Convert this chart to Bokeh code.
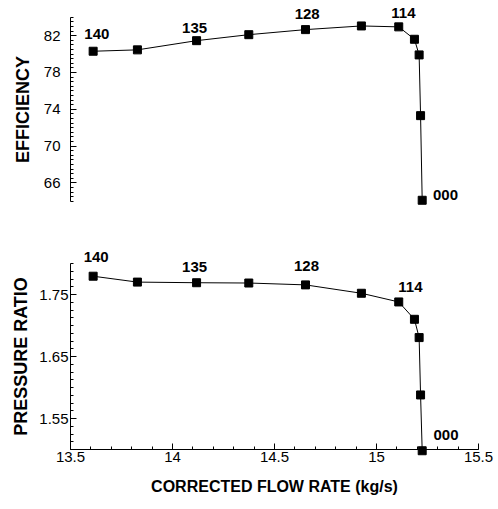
from bokeh.plotting import figure
from bokeh.layouts import column
from bokeh.models import FixedTicker, NumeralTickFormatter, ColumnDataSource, Range1d, LabelSet
from bokeh.core.properties import value
from bokeh.embed import file_html
from bokeh.resources import INLINE

# ---- data ----
flow = [13.611, 13.828, 14.118, 14.374, 14.652, 14.926, 15.109, 15.186, 15.209, 15.216, 15.224]
efficiency = [80.30, 80.45, 81.45, 82.10, 82.65, 83.05, 82.95, 81.60, 79.90, 73.30, 64.10]
pressure_ratio = [1.7795, 1.7700, 1.7690, 1.7685, 1.7655, 1.7520, 1.7380, 1.7100, 1.6805, 1.5880, 1.4980]
point_labels = ["140", "135", "128", "114", "000"]
label_index = [0, 2, 4, 6, 10]

x_ticks = [13.5, 14.0, 14.5, 15.0, 15.5]
eff_ticks = [66, 70, 74, 78, 82]
pr_ticks = [1.55, 1.65, 1.75]
x_lim = (13.5, 15.5)
eff_lim = (64, 84)
pr_lim = (1.50, 1.80)

# ---- styling / geometry (pixels) ----
FONT = "Liberation Sans"
W = 498
H_TOP, H_BOT = 230, 279
AX_L, AX_R = 70, 478          # x pixel of x_lim ends
TOP_T, TOP_B = 16.7, 200.7    # y pixel of eff_lim ends (top figure)
BOT_T, BOT_B = 33, 219        # y pixel of pr_lim ends (bottom figure)
# label offsets in screen pixels (right, up) from the labelled point
top_offsets = [(3.7, 17.2), (-2, 12.3), (1.7, 15.3), (4.7, 13.8), (23.3, 5)]
bot_offsets = [(3, 19), (-2, 15.8), (1, 18.7), (11.7, 15.2), (23.8, 15.3)]


def px_range(lo, hi, p_lo, p_hi, size, flip=False):
    # data range whose [lo, hi] lands on pixels [p_lo, p_hi] of a canvas of length size
    scale = (hi - lo) / (p_hi - p_lo)
    if flip:  # pixel grows downward: p_lo is the pixel of hi
        return Range1d(lo - (size - p_hi) * scale, hi + p_lo * scale)
    return Range1d(lo - p_lo * scale, hi + (size - p_hi) * scale)


def style_axis(ax):
    ax.axis_line_color = "black"
    ax.axis_line_width = 1
    ax.major_tick_line_color = "black"
    ax.minor_tick_line_color = "black"
    ax.major_tick_in = 6
    ax.major_tick_out = 0
    ax.minor_tick_in = 3
    ax.minor_tick_out = 0
    ax.major_label_text_font = FONT
    ax.major_label_text_font_size = "15px"
    ax.major_label_text_color = "black"
    ax.axis_label_text_font = FONT
    ax.axis_label_text_font_style = "bold"
    ax.axis_label_text_color = "black"


def add_series(p, ys, offsets):
    p.line(flow, ys, line_color="black", line_width=1)
    p.scatter(flow, ys, marker="square", size=8, fill_color="black", line_color="black")
    lx = [flow[i] for i in label_index]
    ly = [ys[i] for i in label_index]
    src = ColumnDataSource(dict(x=lx, y=ly, t=point_labels,
                                xo=[o[0] for o in offsets], yo=[o[1] for o in offsets]))
    labels = LabelSet(x="x", y="y", text="t", x_offset="xo", y_offset="yo", source=src,
                      text_font=value(FONT), text_font_style="bold", text_font_size="15px",
                      text_color="black", text_align="center", text_baseline="middle")
    p.add_layout(labels)


xr = px_range(x_lim[0], x_lim[1], AX_L, AX_R, W)

# ---- top: efficiency ----
p1 = figure(width=W, height=H_TOP, output_backend="svg", toolbar_location=None,
            x_range=xr, y_range=px_range(eff_lim[0], eff_lim[1], TOP_T, TOP_B, H_TOP, flip=True),
            x_axis_location=None, min_border=0)
p1.outline_line_color = None
p1.grid.visible = False
add_series(p1, efficiency, top_offsets)
ya = p1.yaxis[0]
style_axis(ya)
ya.fixed_location = x_lim[0]
ya.bounds = eff_lim
ya.ticker = FixedTicker(ticks=eff_ticks, minor_ticks=[64 + 0.5 * i for i in range(41)])
ya.formatter = NumeralTickFormatter(format="0")
ya.axis_label = "EFFICIENCY"
ya.axis_label_text_font_size = "18px"
ya.major_label_standoff = 10
ya.axis_label_standoff = 8

# ---- bottom: pressure ratio ----
p2 = figure(width=W, height=H_BOT, output_backend="svg", toolbar_location=None,
            x_range=xr, y_range=px_range(pr_lim[0], pr_lim[1], BOT_T, BOT_B, H_BOT, flip=True),
            min_border=0)
p2.outline_line_color = None
p2.grid.visible = False
add_series(p2, pressure_ratio, bot_offsets)
xa = p2.xaxis[0]
style_axis(xa)
xa.fixed_location = pr_lim[0]
xa.bounds = x_lim
xa.ticker = FixedTicker(ticks=x_ticks, minor_ticks=[13.5 + 0.1 * i for i in range(21)])
xa.formatter = NumeralTickFormatter(format="0.[0]")
xa.axis_label = "CORRECTED FLOW RATE (kg/s)"
xa.axis_label_text_font_size = "16px"
xa.major_label_standoff = 2
xa.axis_label_standoff = 13
ya2 = p2.yaxis[0]
style_axis(ya2)
ya2.fixed_location = x_lim[0]
ya2.bounds = pr_lim
ya2.ticker = FixedTicker(ticks=pr_ticks, minor_ticks=[1.50 + 0.0125 * i for i in range(25)])
ya2.formatter = NumeralTickFormatter(format="0.00")
ya2.axis_label = "PRESSURE RATIO"
ya2.axis_label_text_font_size = "18px"
ya2.major_label_standoff = 2
ya2.axis_label_standoff = 5

layout = column(p1, p2, spacing=0)
open("out.html", "w").write(file_html(layout, INLINE))
